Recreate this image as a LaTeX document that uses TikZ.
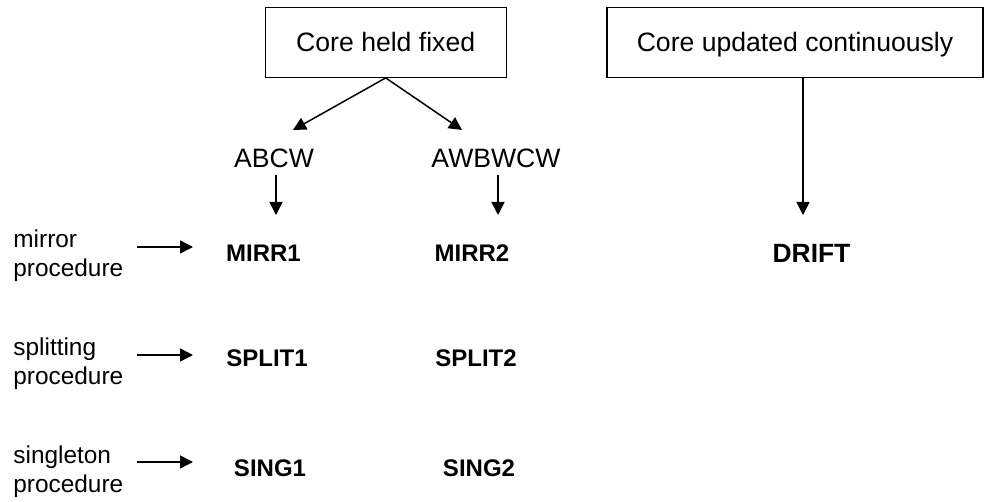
\documentclass[tikz,border=0pt]{standalone}
\usepackage{fontspec}
\setmainfont{Liberation Sans}
\usetikzlibrary{arrows.meta}
\begin{document}
\begin{tikzpicture}[x=0.5pt,y=-0.5pt,
  box/.style={draw,line width=0.6pt,minimum width=#1,minimum height=35pt,inner sep=0pt,font=\fontsize{13.3}{16}\selectfont,text height=9.5pt,text depth=0pt},
  plain/.style={inner sep=0pt,font=\fontsize{13.3}{16}\selectfont},
  res/.style={inner sep=0pt,font=\fontsize{12}{14}\selectfont\bfseries},
  lab/.style={inner sep=0pt,anchor=north west,align=left,font=\fontsize{12.2}{14.5}\selectfont},
  arr/.style={line width=0.75pt,-{Triangle[length=6.5pt,width=6.5pt]}}]
\useasboundingbox (0,0) rectangle (990,502);
\node[box=120.5pt] (fixed) at (385.7,42.3) {Core held fixed};
\node[box=188pt] (upd) at (795,42.5) {Core updated continuously};
\node[plain] (abcw) at (274,158) {ABCW};
\node[plain] (awbwcw) at (496,158) {AWBWCW};
\coordinate (tipA) at (293,130);
\coordinate (tipB) at (462,130);
\node[res] (mirr1) at (263.5,253) {MIRR1};
\node[res] (mirr2) at (472,253) {MIRR2};
\node[res] (split1) at (267,358) {SPLIT1};
\node[res] (split2) at (476,358) {SPLIT2};
\node[res] (sing1) at (270,468) {SING1};
\node[res] (sing2) at (479,468) {SING2};
\node[res,font=\fontsize{13.2}{15}\selectfont\bfseries] (drift) at (811.5,253) {DRIFT};
\node[lab] (l1) at (13,229) {mirror\\procedure};
\node[lab] (l2) at (13,337) {splitting\\procedure};
\node[lab] (l3) at (13,445) {singleton\\procedure};
\coordinate (s1) at (137,247); \coordinate (e1) at (193,247);
\coordinate (s2) at (137,355); \coordinate (e2) at (193,355);
\coordinate (s3) at (137,462); \coordinate (e3) at (193,462);
\draw[arr] (fixed.south) -- (tipA);
\draw[arr] (fixed.south) -- (tipB);
\draw[arr] ([xshift=1pt,yshift=-3.5pt]abcw.south) -- ([xshift=1pt]abcw.south |- 0,215);
\draw[arr] ([xshift=1pt,yshift=-3.5pt]awbwcw.south) -- ([xshift=1pt]awbwcw.south |- 0,215);
\draw[arr] ([xshift=4pt]upd.south) -- ([xshift=4pt]upd.south |- 0,215);
\draw[arr] (s1) -- (e1);
\draw[arr] (s2) -- (e2);
\draw[arr] (s3) -- (e3);
\end{tikzpicture}
\end{document}
